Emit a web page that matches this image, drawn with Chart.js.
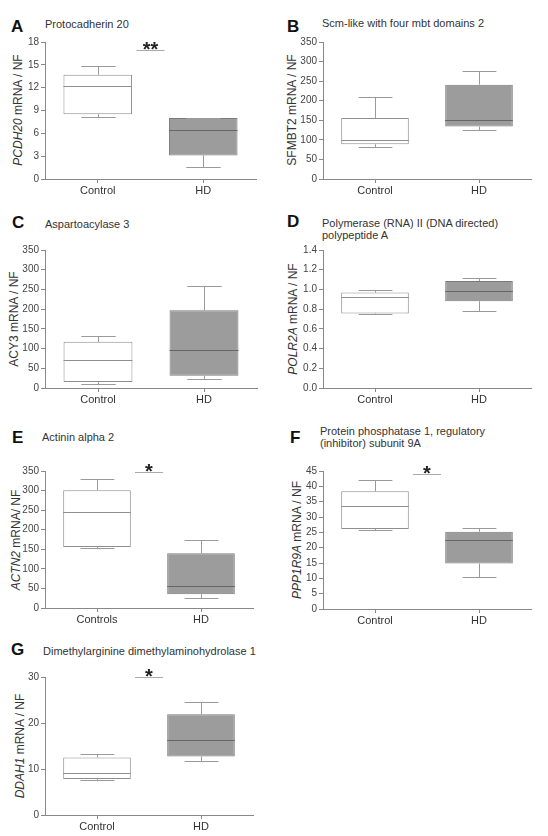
<!DOCTYPE html>
<html>
<head>
<meta charset="utf-8">
<script src="https://cdn.jsdelivr.net/npm/chart.js@4.4.1/dist/chart.umd.min.js"></script>
<style>
  body { margin: 0; background: #fff; width: 548px; height: 836px; overflow: hidden; position: relative;
         font-family: Arial, "Liberation Sans", sans-serif; color: #333; }
  .cv { position: absolute; }
  .letter { position: absolute; font-weight: bold; font-size: 17px; color: #111; line-height: 17px; transform: translateY(-50%); }
  .title { position: absolute; font-size: 11px; line-height: 12px; color: #333; transform: translateY(-50%); white-space: nowrap; }
  .ytitle { position: absolute; font-size: 12px; color: #333; white-space: nowrap; transform: translate(-50%, -50%) rotate(-90deg); }
</style>
</head>
<body>

<div class="letter" style="left:11px;top:26px">A</div>
<div class="title" style="left:45px;top:24px">Protocadherin 20</div>
<div class="ytitle" style="left:18px;top:110px"><i>PCDH20</i> mRNA / NF</div>
<canvas id="cA" class="cv" style="left:0px;top:26px" width="262" height="175"></canvas>

<div class="letter" style="left:287px;top:26px">B</div>
<div class="title" style="left:322px;top:23px">Scm-like with four mbt domains 2</div>
<div class="ytitle" style="left:292px;top:110px">SFMBT2 mRNA / NF</div>
<canvas id="cB" class="cv" style="left:278px;top:26px" width="259" height="175"></canvas>

<div class="letter" style="left:12px;top:222px">C</div>
<div class="title" style="left:45px;top:224px">Aspartoacylase 3</div>
<div class="ytitle" style="left:14px;top:319px">ACY3 mRNA / NF</div>
<canvas id="cC" class="cv" style="left:0px;top:234px" width="263" height="176"></canvas>

<div class="letter" style="left:287px;top:221px">D</div>
<div class="title" style="left:322px;top:229px">Polymerase (RNA) II (DNA directed)<br>polypeptide A</div>
<div class="ytitle" style="left:293px;top:319px"><i>POLR2A</i> mRNA / NF</div>
<canvas id="cD" class="cv" style="left:278px;top:234px" width="259" height="176"></canvas>

<div class="letter" style="left:12px;top:437px">E</div>
<div class="title" style="left:42px;top:437px">Actinin alpha 2</div>
<div class="ytitle" style="left:16px;top:540px"><i>ACTN2</i> mRNA/ NF</div>
<canvas id="cE" class="cv" style="left:0px;top:455px" width="259" height="175"></canvas>

<div class="letter" style="left:290px;top:437px">F</div>
<div class="title" style="left:320px;top:437px">Protein phosphatase 1, regulatory<br>(inhibitor) subunit 9A</div>
<div class="ytitle" style="left:297px;top:540px"><i>PPP1R9A</i> mRNA / NF</div>
<canvas id="cF" class="cv" style="left:278px;top:455px" width="259" height="176"></canvas>

<div class="letter" style="left:11px;top:649px">G</div>
<div class="title" style="left:43px;top:651px">Dimethylarginine dimethylaminohydrolase 1</div>
<div class="ytitle" style="left:20px;top:746px"><i>DDAH1</i> mRNA / NF</div>
<canvas id="cG" class="cv" style="left:0px;top:661px" width="259" height="176"></canvas>

<script>
// groups
var groups = ['Control', 'HD'];
var groupsE = ['Controls', 'HD'];

// A - PCDH20
var aMin = [8.1, 1.6];
var aQ1  = [8.5, 3.1];
var aMed = [12.2, 6.5];
var aQ3  = [13.7, 8.0];
var aMax = [14.9, 8.0];

// B - SFMBT2
var bMin = [81, 124];
var bQ1  = [89, 134];
var bMed = [99, 150];
var bQ3  = [156, 241];
var bMax = [210, 275];

// C - ACY3
var cMin = [11, 22];
var cQ1  = [15, 31];
var cMed = [70, 97];
var cQ3  = [117, 197];
var cMax = [131, 258];

// D - POLR2A
var dMin = [0.746, 0.78];
var dQ1  = [0.756, 0.88];
var dMed = [0.928, 0.985];
var dQ3  = [0.968, 1.085];
var dMax = [0.99, 1.113];

// E - ACTN2
var eMin = [154, 25];
var eQ1  = [156, 35];
var eMed = [244, 56];
var eQ3  = [301, 140];
var eMax = [330, 175];

// F - PPP1R9A
var fMin = [25.9, 10.4];
var fQ1  = [26.1, 14.8];
var fMed = [33.7, 22.5];
var fQ3  = [38.4, 25.2];
var fMax = [42.0, 26.3];

// G - DDAH1
var gMin = [7.7, 11.7];
var gQ1  = [7.8, 12.7];
var gMed = [9.1, 16.2];
var gQ3  = [12.5, 21.9];
var gMax = [13.3, 24.5];

// significance marks (label, y level)
var aSig = ['**', 17];
var eSig = ['*', 348];
var fSig = ['*', 44];
var gSig = ['*', 30];

var boxFill = ['#ffffff', '#9c9c9c'];
var boxLine = ['#8e8e8e', '#7a7a7a'];
var medLine = ['#8e8e8e', '#666666'];

var boxPlugin = {
  id: 'boxes',
  afterDatasetsDraw: function(chart) {
    var st = chart.options.plugins.boxes;
    var y = chart.scales.y;
    var meta = chart.getDatasetMeta(0);
    var ctx = chart.ctx;
    ctx.save();
    ctx.lineWidth = 1;
    meta.data.forEach(function(bar, i) {
      var x = Math.round(bar.x) + 0.5;
      var hw = bar.width / 4;
      var pMin = Math.round(y.getPixelForValue(st.min[i])) + 0.5;
      var pMax = Math.round(y.getPixelForValue(st.max[i])) + 0.5;
      var pQ1 = y.getPixelForValue(st.q1[i]);
      var pQ3 = y.getPixelForValue(st.q3[i]);
      var pMed = Math.round(y.getPixelForValue(st.med[i])) + 0.5;
      ctx.strokeStyle = '#9a9a9a';
      ctx.beginPath();
      ctx.moveTo(x, pQ3); ctx.lineTo(x, pMax);
      ctx.moveTo(x - hw, pMax); ctx.lineTo(x + hw, pMax);
      ctx.moveTo(x, pQ1); ctx.lineTo(x, pMin);
      ctx.moveTo(x - hw, pMin); ctx.lineTo(x + hw, pMin);
      ctx.stroke();
      ctx.strokeStyle = medLine[i];
      ctx.beginPath();
      ctx.moveTo(bar.x - bar.width / 2, pMed); ctx.lineTo(bar.x + bar.width / 2, pMed);
      ctx.stroke();
    });
    if (st.sig) {
      var x0 = meta.data[0].x, x1 = meta.data[1].x;
      var mid = (x0 + x1) / 2;
      var py = Math.round(y.getPixelForValue(st.sig[1])) + 0.5;
      ctx.strokeStyle = '#aaa';
      ctx.beginPath();
      ctx.moveTo(mid - 14, py); ctx.lineTo(mid + 14, py);
      ctx.stroke();
      ctx.fillStyle = '#222';
      ctx.font = 'bold 20px Arial';
      ctx.textAlign = 'center';
      ctx.textBaseline = 'alphabetic';
      ctx.fillText(st.sig[0], mid, py + 5);
    }
    ctx.restore();
  }
};

function panel(id, labels, mn, q1, med, q3, mx, yMax, step, sig, dec) {
  return new Chart(document.getElementById(id), {
    type: 'bar',
    data: {
      labels: labels,
      datasets: [{
        data: labels.map(function(l, i) { return [q1[i], q3[i]]; }),
        backgroundColor: boxFill,
        borderColor: boxLine,
        borderWidth: 1,
        borderSkipped: false,
        barPercentage: 0.65,
        categoryPercentage: 1
      }]
    },
    options: {
      responsive: false,
      animation: false,
      layout: { padding: { top: 16, right: 6, bottom: 0, left: 0 } },
      plugins: {
        legend: { display: false },
        tooltip: { enabled: false },
        boxes: { min: mn, q1: q1, med: med, q3: q3, max: mx, sig: sig }
      },
      scales: {
        x: {
          afterFit: function(s) { s.height = 22; },
          grid: { display: true, drawOnChartArea: false, offset: false, tickLength: 4, color: '#888' },
          border: { display: true, color: '#888' },
          ticks: { color: '#333', font: { family: 'Arial', size: 11 }, padding: 1 }
        },
        y: {
          min: 0, max: yMax,
          afterFit: function(s) { s.width = 45; },
          grid: { display: true, drawOnChartArea: false, tickLength: 4, color: '#888' },
          border: { display: true, color: '#888' },
          ticks: {
            stepSize: step, color: '#444', padding: 2,
            font: { family: 'Arial', size: 10 },
            callback: function(v) { return dec ? v.toFixed(dec) : v; }
          }
        }
      }
    },
    plugins: [boxPlugin]
  });
}

panel('cA', groups, aMin, aQ1, aMed, aQ3, aMax, 18, 3, aSig);
panel('cB', groups, bMin, bQ1, bMed, bQ3, bMax, 350, 50, null);
panel('cC', groups, cMin, cQ1, cMed, cQ3, cMax, 350, 50, null);
panel('cD', groups, dMin, dQ1, dMed, dQ3, dMax, 1.4, 0.2, null, 1);
panel('cE', groupsE, eMin, eQ1, eMed, eQ3, eMax, 350, 50, eSig);
panel('cF', groups, fMin, fQ1, fMed, fQ3, fMax, 45, 5, fSig);
panel('cG', groups, gMin, gQ1, gMed, gQ3, gMax, 30, 10, gSig);
</script>
</body>
</html>
